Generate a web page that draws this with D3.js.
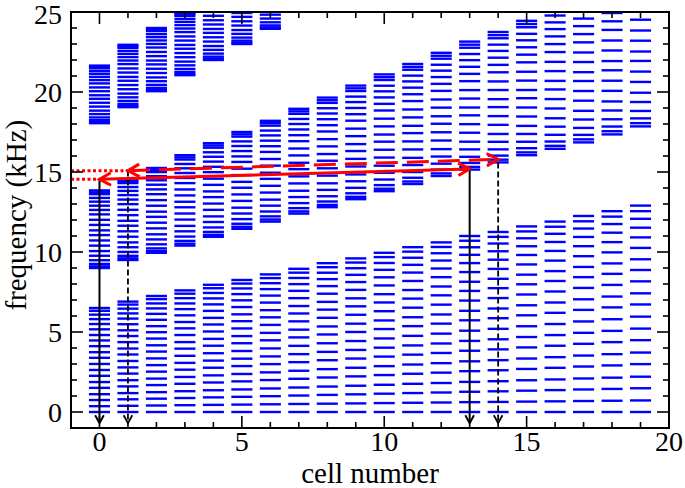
<!DOCTYPE html>
<html>
<head>
<meta charset="utf-8">
<script src="https://cdn.jsdelivr.net/npm/d3@7"></script>
<style>
  body { margin: 0; background: #fff; }
  text { font-family: "Liberation Serif", "DejaVu Serif", serif; }
</style>
</head>
<body>
<div id="chart"></div>
<script>
// cell numbers (x categories)
const cells = [0, 1, 2, 3, 4, 5, 6, 7, 8, 9, 10, 11, 12, 13, 14, 15, 16, 17, 18, 19];

// band edges per cell, kHz (tops above 25 are where the band runs off the plot)
const lowerBottom = [0, 0, 0, 0, 0, 0, 0, 0, 0, 0, 0, 0, 0, 0, 0, 0, 0, 0, 0, 0];
const lowerTop = [6.5, 6.9, 7.25, 7.6, 7.95, 8.25, 8.6, 8.95, 9.3, 9.6, 9.95, 10.3, 10.6, 11.0, 11.25, 11.6, 11.9, 12.25, 12.55, 12.9];
const middleBottom = [9.0, 9.5, 9.95, 10.4, 10.95, 11.45, 11.9, 12.4, 12.8, 13.3, 13.8, 14.25, 14.75, 15.15, 15.6, 16.05, 16.45, 16.85, 17.35, 17.85];
const middleTop = [13.85, 14.55, 15.25, 16.05, 16.8, 17.5, 18.2, 18.95, 19.65, 20.4, 21.1, 21.75, 22.45, 23.15, 23.75, 24.45, 25.2, 25.9, 26.8, 27.5];
const upperBottom = [18.05, 19.05, 20.05, 21.05, 22.0, 23.0, 23.95];
const upperTop = [21.65, 22.95, 24.0, 24.95, 26.0, 27.0, 28.0];

// where the modes sit inside a band (fraction of band width, read from cell 19 / cell 8)
const lowerShape = [0, 0.056, 0.115, 0.171, 0.232, 0.288, 0.348, 0.404, 0.462, 0.521, 0.575, 0.633, 0.688, 0.740, 0.795, 0.846, 0.893, 0.936, 0.973, 1.0];
const middleShape = [0, 0.021, 0.052, 0.1, 0.158, 0.218, 0.288, 0.355, 0.424, 0.485, 0.555, 0.621, 0.691, 0.748, 0.803, 0.855, 0.903, 0.952, 0.976, 1.0];

const fMax = 24.96; // highest computed frequency

// arrows: [cell, kHz]
const solidArrow = [[0, 14.54], [13, 15.19]];
const dashedArrow = [[1, 15.08], [14, 15.79]];
const solidDrops = [[0, 14.5], [13, 15.12]];
const dashedDrops = [[1, 15.1], [14, 15.6]];
const dropEnd = -0.7;

const xTicks = [0, 5, 10, 15, 20];
const yTicks = [0, 5, 10, 15, 20, 25];

const width = 685;
const height = 488;

const x = d3.scaleLinear().domain([-1, 20]).range([71, 669]);
const y = d3.scaleLinear().domain([-1, 25]).range([428, 12]);

const svg = d3.select('#chart')
  .append('svg')
  .attr('width', width)
  .attr('height', height);

// collect the dashes of every band
const dashes = [];
function addBand(bottoms, tops, shape) {
  bottoms.forEach((lo, i) => {
    const hi = tops[i];
    shape.forEach(s => {
      const f = lo + s * (hi - lo);
      if (f <= fMax) dashes.push({ cell: cells[i], f });
    });
  });
}
addBand(lowerBottom, lowerTop, lowerShape);
addBand(middleBottom, middleTop, middleShape);
addBand(upperBottom, upperTop, middleShape);

const halfW = 0.37;
svg.append('g')
  .selectAll('line')
  .data(dashes)
  .enter()
  .append('line')
  .attr('x1', d => x(d.cell - halfW))
  .attr('x2', d => x(d.cell + halfW))
  .attr('y1', d => y(d.f))
  .attr('y2', d => y(d.f))
  .attr('stroke', '#0000ff')
  .attr('stroke-width', 2.4);

// open chevron arrow head at (px,py) pointing in direction ang
function head(g, px, py, ang, len, spread, color, w) {
  const a1 = ang + Math.PI - spread;
  const a2 = ang + Math.PI + spread;
  g.append('path')
    .attr('d', `M${px + len * Math.cos(a1)},${py + len * Math.sin(a1)}L${px},${py}L${px + len * Math.cos(a2)},${py + len * Math.sin(a2)}`)
    .attr('fill', 'none')
    .attr('stroke', color)
    .attr('stroke-width', w)
    .attr('stroke-linejoin', 'miter');
}

const arrows = svg.append('g');

// black drop lines to the axis
solidDrops.concat(dashedDrops).forEach((d, i) => {
  const dashed = i >= solidDrops.length;
  arrows.append('line')
    .attr('x1', x(d[0])).attr('x2', x(d[0]))
    .attr('y1', y(d[1])).attr('y2', y(dropEnd) - 1)
    .attr('stroke', '#000')
    .attr('stroke-width', dashed ? 1.8 : 2)
    .attr('stroke-dasharray', dashed ? '6,3' : null);
  head(arrows, x(d[0]), y(dropEnd), Math.PI / 2, 9, 0.5, '#000', dashed ? 1.8 : 2);
});

// red dotted guides from the frequency axis
[solidArrow[0], dashedArrow[0]].forEach(p => {
  arrows.append('line')
    .attr('x1', x(-1)).attr('x2', x(p[0]))
    .attr('y1', y(p[1])).attr('y2', y(p[1]))
    .attr('stroke', '#ff0000')
    .attr('stroke-width', 3)
    .attr('stroke-dasharray', '3,2.5');
});

// red double-headed arrows
[[solidArrow, null], [dashedArrow, '22,9']].forEach(([pts, dash]) => {
  const [p0, p1] = pts;
  const x0 = x(p0[0]), y0 = y(p0[1]), x1 = x(p1[0]), y1 = y(p1[1]);
  const ang = Math.atan2(y1 - y0, x1 - x0);
  arrows.append('line')
    .attr('x1', x0).attr('y1', y0).attr('x2', x1).attr('y2', y1)
    .attr('stroke', '#ff0000')
    .attr('stroke-width', 3)
    .attr('stroke-dasharray', dash);
  head(arrows, x1, y1, ang, 13, 0.5, '#ff0000', 3);
  head(arrows, x0, y0, ang + Math.PI, 13, 0.5, '#ff0000', 3);
});

// frame and ticks on all four sides
const frame = svg.append('g');
frame.append('rect')
  .attr('x', x(-1)).attr('y', y(25))
  .attr('width', x(20) - x(-1)).attr('height', y(-1) - y(25))
  .attr('fill', 'none')
  .attr('stroke', '#000')
  .attr('stroke-width', 2);

const xMinor = d3.range(0, 20);
const yMinor = d3.range(0, 26);
xMinor.forEach(v => {
  const len = v % 5 === 0 ? 12 : 6;
  frame.append('line').attr('x1', x(v)).attr('x2', x(v)).attr('y1', y(-1)).attr('y2', y(-1) - len).attr('stroke', '#000').attr('stroke-width', 1.6);
  frame.append('line').attr('x1', x(v)).attr('x2', x(v)).attr('y1', y(25)).attr('y2', y(25) + len).attr('stroke', '#000').attr('stroke-width', 1.6);
});
yMinor.forEach(v => {
  const len = v % 5 === 0 ? 12 : 6;
  frame.append('line').attr('x1', x(-1)).attr('x2', x(-1) + len).attr('y1', y(v)).attr('y2', y(v)).attr('stroke', '#000').attr('stroke-width', 1.6);
  frame.append('line').attr('x1', x(20)).attr('x2', x(20) - len).attr('y1', y(v)).attr('y2', y(v)).attr('stroke', '#000').attr('stroke-width', 1.6);
});

// tick labels
svg.append('g')
  .selectAll('text')
  .data(xTicks)
  .enter()
  .append('text')
  .attr('x', d => x(d))
  .attr('y', 451)
  .attr('text-anchor', 'middle')
  .attr('font-size', 28)
  .text(d => d);

svg.append('g')
  .selectAll('text')
  .data(yTicks)
  .enter()
  .append('text')
  .attr('x', 62)
  .attr('y', d => y(d) + (d === 25 ? 2 : 0))
  .attr('dy', '0.34em')
  .attr('text-anchor', 'end')
  .attr('font-size', 28)
  .text(d => d);

// axis titles
svg.append('text')
  .attr('x', x(9.5))
  .attr('y', 483)
  .attr('text-anchor', 'middle')
  .attr('font-size', 29)
  .text('cell number');

svg.append('text')
  .attr('transform', `translate(26,${y(12.3)}) rotate(-90)`)
  .attr('text-anchor', 'middle')
  .attr('font-size', 29)
  .text('frequency (kHz)');
</script>
</body>
</html>
